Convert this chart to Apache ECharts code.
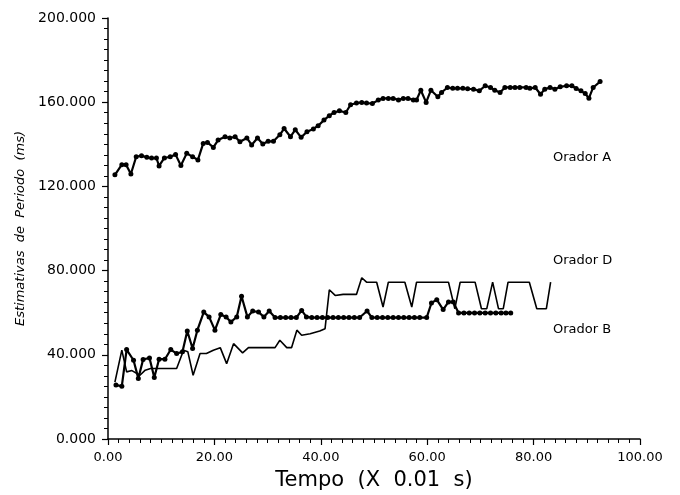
<!DOCTYPE html>
<html>
<head>
<meta charset="utf-8">
<script src="https://cdn.jsdelivr.net/npm/echarts@6/dist/echarts.min.js"></script>
<style>html,body{margin:0;padding:0;background:#fff}#c{width:680px;height:495px}</style>
</head>
<body>
<div id="c"></div>
<script>
// Orador A
var xA = [1.3,2.6,3.4,4.3,5.3,6.3,7.3,8.2,9.1,9.6,10.6,11.7,12.7,13.7,14.8,15.9,16.9,17.9,18.7,19.8,20.7,22.0,22.9,23.9,24.8,26.1,27.0,28.1,29.1,30.1,31.1,32.3,33.1,34.3,35.2,36.3,37.4,38.6,39.5,40.6,41.6,42.5,43.5,44.7,45.6,46.7,47.7,48.6,49.7,50.8,51.7,52.7,53.6,54.6,55.5,56.4,57.4,58.0,58.8,59.8,60.7,62.0,62.7,63.8,64.8,65.7,66.7,67.6,68.7,69.8,70.9,71.9,72.7,73.7,74.6,75.6,76.5,77.4,78.6,79.3,80.3,81.3,82.1,83.1,84.0,85.0,86.2,87.2,88.0,88.9,89.7,90.4,91.2,92.5];
var yA = [125.5,130.3,130.3,125.9,134.1,134.6,133.8,133.5,133.5,129.7,133.5,134.1,135.1,129.9,135.7,134.1,132.6,140.4,140.9,138.5,142.0,143.6,143.0,143.6,141.2,143.0,139.7,143.0,140.1,141.4,141.4,144.5,147.5,143.6,146.9,143.3,146.0,147.3,148.8,151.5,153.6,155.1,155.9,155.1,158.8,159.6,159.9,159.6,159.4,161.0,161.8,161.8,161.8,161.1,161.8,161.8,161.1,161.1,165.7,159.9,165.7,162.6,164.6,167.0,166.6,166.6,166.6,166.4,166.2,165.4,167.8,167.0,165.7,164.6,167.0,167.0,167.0,167.0,167.0,166.6,167.0,163.8,166.2,167.0,166.2,167.3,167.8,167.8,166.5,165.4,164.1,161.9,167.0,169.8];
// Orador B
var xB = [1.5,2.6,3.5,4.8,5.7,6.6,7.8,8.7,9.6,10.7,11.8,12.9,14.0,14.9,15.9,16.8,18.0,19.0,20.1,21.2,22.2,23.1,24.2,25.1,26.2,27.2,28.3,29.3,30.3,31.4,32.4,33.4,34.4,35.4,36.4,37.3,38.3,39.3,40.3,41.3,42.3,43.3,44.3,45.3,46.3,47.3,48.7,49.6,50.6,51.6,52.6,53.6,54.6,55.6,56.6,57.6,58.6,59.9,60.8,61.8,63.0,64.0,64.9,65.9,66.9,67.9,68.9,69.9,70.9,71.9,72.9,73.9,74.8,75.7];
var yB = [25.6,25.1,42.5,37.4,28.8,37.8,38.5,29.2,37.9,37.9,42.5,40.6,41.4,51.3,43.0,51.7,60.3,58.0,51.7,59.1,58.0,55.6,58.0,67.8,58.0,60.8,60.3,58.0,60.8,57.7,57.7,57.7,57.7,57.7,61.1,58.0,57.7,57.7,57.7,57.7,57.7,57.7,57.7,57.7,57.7,57.7,60.8,57.7,57.7,57.7,57.7,57.7,57.7,57.7,57.7,57.7,57.7,57.7,64.6,66.2,61.5,65.1,65.1,59.9,59.9,59.9,59.9,59.9,59.9,59.9,59.9,59.9,59.9,59.9];
// Orador D
var xD = [1.3,2.6,3.5,4.5,6.0,7.0,8.0,12.9,14.2,15.0,16.0,17.3,18.5,19.8,21.1,22.3,23.6,25.3,26.4,31.4,32.3,33.6,34.5,35.5,36.4,38.0,39.8,40.8,41.6,42.7,44.2,46.7,47.7,48.6,50.5,51.7,52.7,55.8,57.1,58.0,64.0,65.2,66.2,69.0,70.2,71.2,72.3,73.4,74.3,75.2,79.2,80.6,82.4,83.2];
var yD = [27.0,42.2,31.9,32.5,30.3,32.7,33.5,33.5,42.2,41.5,30.3,40.6,40.6,42.2,43.4,35.8,45.3,40.9,43.4,43.4,46.9,43.4,43.4,51.7,49.3,50.0,51.3,52.4,70.9,68.2,68.7,68.7,76.6,74.5,74.5,62.7,74.5,74.5,62.7,74.5,74.5,61.9,74.5,74.5,61.9,61.9,74.5,61.9,61.9,74.5,74.5,61.9,61.9,74.5];
var seriesNames = ['Orador A','Orador D','Orador B'];
var xTitle = 'Tempo  (X  0.01  s)';
var yTitle = 'Estimativas  de  Periodo  (ms)';

function pairs(xs, ys){ return xs.map(function(x,i){ return [x, ys[i]]; }); }
var font = 'DejaVu Sans';
var chart = echarts.init(document.getElementById('c'), null, {renderer:'canvas'});
chart.setOption({
  animation:false,
  backgroundColor:'#fff',
  grid:{left:108, right:40, top:18, bottom:56, containLabel:false, outerBoundsMode:'none'},
  xAxis:{type:'value', min:0, max:100, interval:20,
    name:xTitle, nameLocation:'middle', nameGap:31,
    nameTextStyle:{fontFamily:font, fontSize:21, color:'#000'},
    axisLine:{lineStyle:{color:'#000', width:1.5}},
    axisTick:{length:6, lineStyle:{color:'#000', width:1.2}},
    minorTick:{show:true, splitNumber:10, length:4, lineStyle:{color:'#000', width:1}},
    splitLine:{show:false},
    axisLabel:{fontFamily:font, fontSize:13, color:'#000', margin:12, formatter:function(v){return v.toFixed(2);}}
  },
  yAxis:{type:'value', min:0, max:200, interval:40,
    name:yTitle, nameLocation:'middle', nameGap:68, nameRotate:90,
    nameTextStyle:{fontFamily:font, fontSize:13, fontStyle:'italic', color:'#000'},
    axisLine:{show:true, lineStyle:{color:'#000', width:1.5}},
    axisTick:{show:true, length:6, lineStyle:{color:'#000', width:1.2}},
    minorTick:{show:true, splitNumber:8, length:4, lineStyle:{color:'#000', width:1}},
    splitLine:{show:false},
    axisLabel:{fontFamily:font, fontSize:14, color:'#000', margin:12, formatter:function(v){return v.toFixed(3);}}
  },
  series:[
    {name:seriesNames[0], type:'line', data:pairs(xA,yA), symbol:'circle', symbolSize:5, showSymbol:true,
      lineStyle:{color:'#000', width:2.2}, itemStyle:{color:'#000'}},
    {name:seriesNames[1], type:'line', data:pairs(xD,yD), symbol:'none',
      lineStyle:{color:'#000', width:1.6}},
    {name:seriesNames[2], type:'line', data:pairs(xB,yB), symbol:'circle', symbolSize:5, showSymbol:true,
      lineStyle:{color:'#000', width:2.2}, itemStyle:{color:'#000'}}
  ],
  graphic:[
    {type:'text', left:553, top:151, style:{text:seriesNames[0], fontFamily:font, fontSize:13, fill:'#000'}},
    {type:'text', left:553, top:254, style:{text:seriesNames[1], fontFamily:font, fontSize:13, fill:'#000'}},
    {type:'text', left:553, top:323, style:{text:seriesNames[2], fontFamily:font, fontSize:13, fill:'#000'}}
  ]
});
</script>
</body>
</html>
